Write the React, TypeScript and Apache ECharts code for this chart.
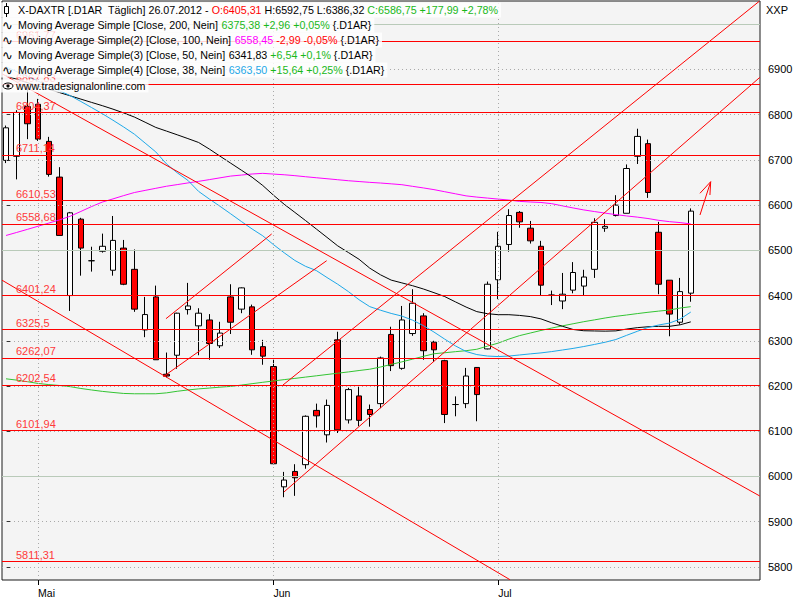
import React, { useEffect, useRef } from 'react';
import * as echarts from 'echarts';

// ---------- data ----------
const monthTicks = [3, 25, 46];
const monthLabels = ['Mai', 'Jun', 'Jul'];
const priceTicks = [5800, 5900, 6000, 6100, 6200, 6300, 6400, 6500, 6600, 6700, 6800, 6900];
const majorGrid = [6000, 6500, 7000];
const minorGrid = [5800, 5900, 6100, 6200, 6300, 6400, 6600, 6700, 6800, 6900];

const levelValues = [6961.77, 6867.83, 6804.37, 6711.14, 6610.53, 6558.68, 6401.24, 6325.5, 6262.07, 6202.54, 6101.94, 5811.31];
const levelLabels = ['6961,77', '6867,83', '6804,37', '6711,14', '6610,53', '6558,68', '6401,24', '6325,5', '6262,07', '6202,54', '6101,94', '5811,31'];

const opens = [6699, 6708, 6818, 6823, 6741, 6662, 6400, 6569, 6477, 6498, 6456, 6505, 6458, 6324, 6397, 6226, 6268, 6369, 6333, 6346, 6289, 6397, 6370, 6375, 6287, 6243, 5977, 6011, 6026, 6146, 6092, 6302, 6125, 6178, 6148, 6161, 6314, 6239, 6316, 6355, 6297, 6256, 6159, 6161, 6241, 6282, 6435, 6513, 6584, 6549, 6509, 6401, 6388, 6412, 6421, 6458, 6549, 6577, 6582, 6708, 6736, 6540, 6434, 6341, 6405.31];
const closes = [6771, 6805, 6780, 6746, 6668, 6533, 6583, 6505, 6477, 6509, 6522, 6425, 6370, 6358, 6258, 6222, 6361, 6377, 6361, 6294, 6317, 6341, 6417, 6280, 6266, 6028, 5992, 5997, 6133, 6134, 6157, 6103, 6192, 6124, 6137, 6262, 6245, 6346, 6383, 6278, 6280, 6137, 6159, 6222, 6181, 6425, 6509, 6577, 6563, 6521, 6423, 6401, 6403, 6451, 6441, 6562, 6553, 6600, 6681, 6752, 6628, 6425, 6359, 6408.76, 6586.75];
const lows = [6693, 6657, 6746, 6742, 6663, 6533, 6366, 6444, 6453, 6495, 6444, 6423, 6364, 6308, 6258, 6219, 6238, 6358, 6268, 6258, 6284, 6315, 6361, 6269, 6247, 6027, 5954, 5957, 6017, 6108, 6075, 6096, 6117, 6111, 6110, 6151, 6233, 6236, 6311, 6258, 6253, 6118, 6133, 6151, 6122, 6281, 6392, 6497, 6550, 6515, 6400, 6379, 6370, 6405, 6400, 6439, 6541, 6575, 6582, 6691, 6616, 6403, 6310, 6336, 6386.32];
const highs = [6776, 6810, 6866, 6835, 6751, 6684, 6585, 6572, 6508, 6537, 6576, 6523, 6502, 6397, 6422, 6274, 6362, 6428, 6372, 6359, 6342, 6425, 6418, 6380, 6302, 6258, 6010, 6027, 6135, 6161, 6170, 6320, 6196, 6199, 6159, 6265, 6331, 6377, 6414, 6361, 6300, 6258, 6177, 6240, 6242, 6431, 6541, 6591, 6587, 6565, 6521, 6411, 6450, 6474, 6457, 6571, 6569, 6622, 6690, 6769, 6745, 6563, 6434, 6439, 6592.75];

const ma200 = [6215.9, 6213.0, 6209.5, 6205.6, 6203.1, 6201.1, 6198.5, 6194.5, 6191.2, 6188.1, 6185.7, 6183.5, 6182.8, 6182.8, 6182.8, 6184.8, 6188.3, 6191.2, 6193.6, 6195.4, 6197.4, 6199.1, 6202.0, 6205.1, 6208.2, 6211.1, 6214.1, 6216.8, 6219.7, 6222.5, 6225.4, 6228.3, 6231.1, 6234.2, 6237.1, 6242.0, 6247.7, 6253.4, 6259.4, 6265.5, 6271.3, 6273.5, 6275.9, 6278.1, 6281.2, 6288.2, 6294.8, 6303.7, 6311.4, 6317.1, 6322.8, 6328.1, 6333.0, 6337.6, 6342.2, 6346.2, 6350.4, 6354.1, 6357.0, 6360.1, 6363.0, 6365.6, 6368.0, 6372.4, 6375.38];
const ma100 = [6532.9, 6539.6, 6546.4, 6553.4, 6560.3, 6567.3, 6575.5, 6586.1, 6596.9, 6606.8, 6613.8, 6621.1, 6627.9, 6632.6, 6637.2, 6641.8, 6645.4, 6649.1, 6652.6, 6656.4, 6660.4, 6664.3, 6666.5, 6668.9, 6670.3, 6668.7, 6667.2, 6665.2, 6662.8, 6660.6, 6658.4, 6656.2, 6654.0, 6652.2, 6650.4, 6648.9, 6647.1, 6645.2, 6641.6, 6638.1, 6634.3, 6629.7, 6625.1, 6620.5, 6617.8, 6615.6, 6613.4, 6611.2, 6608.3, 6607.0, 6605.9, 6603.3, 6598.4, 6593.8, 6589.4, 6585.8, 6582.3, 6579.0, 6576.1, 6573.5, 6570.4, 6566.4, 6563.5, 6561.4, 6558.45];
const ma50 = [6885.7, 6878.4, 6870.9, 6863.6, 6856.3, 6849.0, 6841.8, 6834.5, 6827.2, 6820.0, 6812.3, 6803.9, 6794.8, 6783.4, 6771.9, 6763.8, 6755.6, 6747.2, 6738.6, 6724.1, 6708.4, 6692.8, 6677.3, 6661.7, 6643.4, 6622.0, 6601.9, 6583.9, 6565.8, 6547.3, 6528.7, 6510.0, 6495.2, 6480.2, 6460.6, 6445.9, 6434.2, 6428.0, 6421.8, 6414.6, 6406.4, 6397.8, 6386.1, 6374.6, 6364.5, 6359.9, 6357.7, 6357.7, 6356.1, 6353.5, 6348.4, 6339.8, 6332.1, 6325.0, 6322.2, 6321.7, 6321.3, 6321.9, 6325.9, 6329.0, 6331.0, 6331.9, 6331.9, 6335.3, 6341.83];
const ma38 = [6906.0, 6895.4, 6884.8, 6874.2, 6863.6, 6853.0, 6842.2, 6829.2, 6815.8, 6802.3, 6787.8, 6772.8, 6756.9, 6737.3, 6717.7, 6691.2, 6671.6, 6654.8, 6630.4, 6613.6, 6597.5, 6580.8, 6563.8, 6547.3, 6532.1, 6512.6, 6494.6, 6477.6, 6464.6, 6455.3, 6439.9, 6425.1, 6408.8, 6390.7, 6375.5, 6367.6, 6360.5, 6354.6, 6345.6, 6333.6, 6319.3, 6303.7, 6288.7, 6276.3, 6269.5, 6266.2, 6265.1, 6266.2, 6268.6, 6271.0, 6273.2, 6276.1, 6279.6, 6283.1, 6287.3, 6291.9, 6296.8, 6302.8, 6312.0, 6320.9, 6329.4, 6334.9, 6339.1, 6347.9, 6363.5];

// drawn trend lines, in [bar index, price] units
const trendLines = [
  [[-0.37, 6890.5], [70.45, 5956.7]],
  [[-0.37, 6434.0], [47.11, 5771.5]],
  [[25.89, 6202.2], [70.41, 7051.0]],
  [[25.98, 5965.6], [70.45, 6882.5]],
  [[14.95, 6348.8], [24.83, 6536.2]],
  [[14.70, 6220.6], [29.97, 6477.1]],
];
const arrowLines = [
  [[64.86, 6578.2], [65.86, 6651.8]],
  [[65.86, 6651.8], [64.86, 6626.2]],
  [[65.86, 6651.8], [65.79, 6622.4]],
];

const FONT = 'Liberation Sans';

export default function App() {
  const ref = useRef<HTMLDivElement>(null);

  useEffect(() => {
    if (!ref.current) return;
    const chart = echarts.init(ref.current, undefined, { renderer: 'svg' });

    const candles = opens.map((o, i) => [i, o, closes[i], lows[i], highs[i]]);
    const toLine = (arr: number[]) => arr.map((v, i) => [i, v]);

    const rs = (fill: string) => ({ fill, fontSize: 10.7, fontFamily: FONT });
    const rich = { k: rs('#000000'), r: rs('#ff0000'), g: rs('#19b819'), m: rs('#ff00ff'), c: rs('#1ea8e8') };
    const headerRows = [
      '{k|X-DAXTR [.D1AR  Täglich] 26.07.2012 - }{r|O:6405,31}{k| H:6592,75 L:6386,32 }{g|C:6586,75 +177,99 +2,78%}',
      '{k|Moving Average Simple [Close, 200, Nein] }{g|6375,38 +2,96 +0,05%} {.D1AR}',
      '{k|Moving Average Simple(2) [Close, 100, Nein] }{m|6558,45}{r| -2,99 -0,05%} {.D1AR}',
      '{k|Moving Average Simple(3) [Close, 50, Nein] }{k|6341,83}{g| +6,54 +0,1%} {.D1AR}',
      '{k|Moving Average Simple(4) [Close, 38, Nein] }{c|6363,50}{g| +15,64 +0,25%} {.D1AR}',
    ];
    const rowY = [10, 25, 40, 55, 70];

    const graphicChildren: any[] = [];
    headerRows.forEach((t, i) => {
      graphicChildren.push({
        type: 'text', x: 1, y: rowY[i], z: 100,
        style: {
          text: t, rich, fill: '#000', font: `10.7px "${FONT}"`, verticalAlign: 'middle',
          backgroundColor: 'rgba(255,255,255,0.82)', padding: [2, 3, 2, 17],
        },
      });
    });
    graphicChildren.push({
      type: 'text', x: 1, y: 86, z: 100,
      style: { text: 'www.tradesignalonline.com', fill: '#000', font: `10.7px "${FONT}"`, verticalAlign: 'middle', backgroundColor: 'rgba(255,255,255,0.82)', padding: [1, 3, 1, 15] },
    });
    // row icons
    graphicChildren.push({ type: 'line', z: 101, shape: { x1: 6.5, y1: 3, x2: 6.5, y2: 17 }, style: { stroke: '#000', lineWidth: 1 } });
    graphicChildren.push({ type: 'rect', z: 102, shape: { x: 4.5, y: 6.5, width: 4, height: 7 }, style: { fill: '#fff', stroke: '#000', lineWidth: 1 } });
    [25, 40, 55, 70].forEach((y) => {
      graphicChildren.push({ type: 'text', x: 2, y, z: 101, style: { text: '∿', fill: '#000', font: '13px "DejaVu Sans"', verticalAlign: 'middle' } });
    });
    graphicChildren.push({ type: 'ellipse', z: 101, shape: { cx: 8, cy: 86, rx: 5, ry: 3 }, style: { fill: 'none', stroke: '#000', lineWidth: 1 } });
    graphicChildren.push({ type: 'circle', z: 102, shape: { cx: 8, cy: 86, r: 1.6 }, style: { fill: '#000' } });
    graphicChildren.push({ type: 'text', x: 766, y: 10, z: 100, style: { text: 'XXP', fill: '#000', font: `11px "${FONT}"`, verticalAlign: 'middle' } });

    const dotted = { type: [1, 3] as any, color: '#a9a9a9', width: 1 };

    const option: any = {
      animation: false,
      backgroundColor: '#ffffff',
      textStyle: { fontFamily: FONT },
      grid: { left: 2, right: 40, top: 1, bottom: 20, show: true, backgroundColor: '#f4f4f4', borderColor: '#1a1a1a', borderWidth: 1 },
      xAxis: {
        type: 'value', min: -0.374, max: 70.47,
        axisLine: { show: false }, splitLine: { show: false },
        axisTick: { show: true, customValues: monthTicks, length: 5, lineStyle: { color: '#000' } },
        axisLabel: {
          customValues: monthTicks,
          formatter: (v: number) => monthLabels[monthTicks.indexOf(Math.round(v))] ?? '',
          align: 'left', margin: 7, fontSize: 10.5, color: '#000', fontFamily: FONT,
        },
      },
      yAxis: {
        type: 'value', position: 'right', min: 5770.9, max: 7051.5, scale: true,
        axisLine: { show: false }, splitLine: { show: false },
        axisTick: { show: true, customValues: priceTicks, length: 5, lineStyle: { color: '#333' } },
        axisLabel: {
          customValues: priceTicks, margin: 8, fontSize: 11, color: '#000', fontFamily: FONT,
          formatter: (v: number) => String(Math.round(v)),
        },
      },
      graphic: [{ type: 'group', z: 100, children: graphicChildren }],
      series: [
        {
          name: 'grid', type: 'line', data: [], z: 1, silent: true,
          markLine: {
            silent: true, symbol: ['none', 'none'], label: { show: false }, animation: false,
            data: [
              ...minorGrid.map((v) => ({ yAxis: v, lineStyle: dotted })),
              ...majorGrid.map((v) => ({ yAxis: v, lineStyle: { type: 'solid', color: '#b9cab9', width: 1 } })),
              ...monthTicks.map((v) => ({ xAxis: v, lineStyle: dotted })),
            ],
          },
        },
        {
          name: 'levels', type: 'line', data: [], z: 2, silent: true,
          markLine: {
            silent: true, symbol: ['none', 'none'], animation: false,
            lineStyle: { type: 'solid', color: '#ff0000', width: 1 },
            data: levelValues.map((v, i) => ({
              yAxis: v,
              label: {
                show: true, position: 'insideStartTop', formatter: levelLabels[i], color: '#ff3a3a',
                fontSize: 11, fontFamily: FONT, distance: [14, 1],
              },
            })),
          },
        },
        {
          name: 'X-DAXTR', type: 'candlestick', data: candles, z: 3, barWidth: 6,
          encode: { x: 0, y: [1, 2, 3, 4] },
          itemStyle: { color: '#ffffff', color0: '#ff0000', borderColor: '#000000', borderColor0: '#000000', borderWidth: 1 },
        },
        { name: 'MA200', type: 'line', data: toLine(ma200), z: 4, showSymbol: false, lineStyle: { color: '#33c433', width: 1 } },
        { name: 'MA100', type: 'line', data: toLine(ma100), z: 4, showSymbol: false, lineStyle: { color: '#ff00ff', width: 1 } },
        { name: 'MA50', type: 'line', data: toLine(ma50), z: 4, showSymbol: false, lineStyle: { color: '#000000', width: 1 } },
        { name: 'MA38', type: 'line', data: toLine(ma38), z: 4, showSymbol: false, lineStyle: { color: '#1ea8e8', width: 1 } },
        {
          name: 'trend', type: 'line', data: [], z: 5, silent: true,
          markLine: {
            silent: true, symbol: ['none', 'none'], label: { show: false }, animation: false,
            lineStyle: { type: 'solid', color: '#ff0000', width: 1 },
            data: [...trendLines, ...arrowLines].map(([a, b]) => [{ coord: a }, { coord: b }]),
          },
        },
      ],
    };

    chart.setOption(option);
    return () => chart.dispose();
  }, []);

  return <div ref={ref} style={{ position: 'fixed', left: 0, top: 0, width: 800, height: 600 }} />;
}
